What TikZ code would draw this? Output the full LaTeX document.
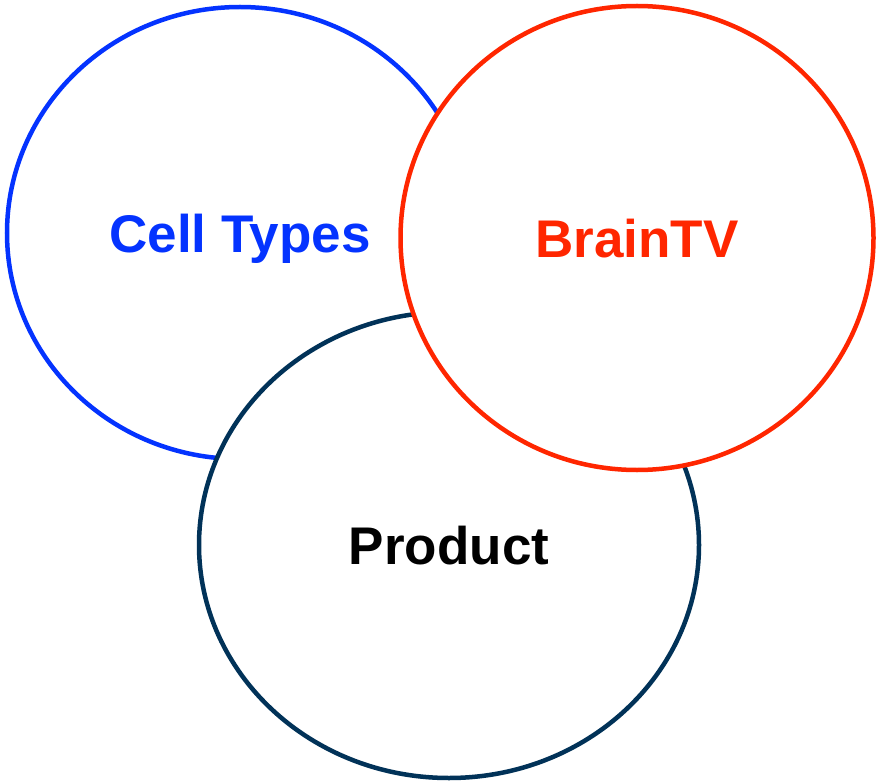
\documentclass[tikz,border=0pt]{standalone}
\usepackage{fontspec}
\setmainfont{Liberation Sans}
\usetikzlibrary{shapes.geometric, shadows}

\definecolor{cellblue}{RGB}{4,51,255}
\definecolor{brainred}{RGB}{255,38,0}
\definecolor{productnavy}{RGB}{1,50,88}

\begin{document}
\begin{tikzpicture}[
    x=1pt, y=-1pt,
    every node/.style={ellipse, draw, fill=white, line width=4.5pt, inner sep=0pt, text depth=0pt,
        font=\fontsize{53}{60}\selectfont\bfseries,
        drop shadow={shadow xshift=0pt, shadow yshift=-2pt, opacity=0.18}}
]

\useasboundingbox (0,0) rectangle (876,781);

% Nodes
\node (cells) [draw=cellblue, text=cellblue, minimum width=466pt, minimum height=452pt] at (240,233) {Cell Types};
\node (product) [draw=productnavy, text=black, minimum width=500pt, minimum height=466pt] at (449,545) {Product};
\node (braintv) [draw=brainred, text=brainred, minimum width=473pt, minimum height=464pt] at (637,238) {BrainTV};

\end{tikzpicture}
\end{document}
